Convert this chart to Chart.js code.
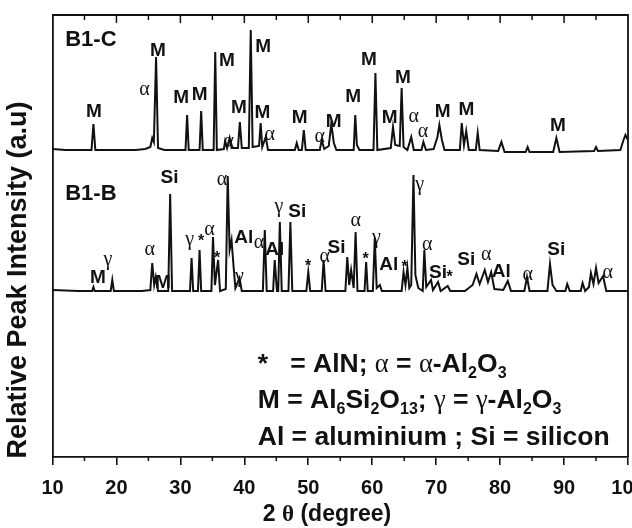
<!DOCTYPE html>
<html>
<head>
<meta charset="utf-8">
<script src="https://cdn.jsdelivr.net/npm/chart.js@4.4.1/dist/chart.umd.min.js"></script>
<style>
html,body{margin:0;padding:0;background:#fff;}
#wrap{width:632px;height:528px;position:relative;}
</style>
</head>
<body>
<div id="wrap"><canvas id="c" width="632" height="528"></canvas></div>
<script>
// ---------------- DATA (2θ in degrees, intensity in arbitrary units) ----------------
// B1-C trace (upper pattern)
const thetaC = [10.0,12.0,14.0,16.1,16.4,16.7,20.0,23.0,24.5,25.3,25.6,25.85,26.2,26.5,27.5,30.8,31.05,31.3,33.0,33.25,33.5,35.2,35.45,35.7,36.8,37.0,37.3,37.7,38.0,39.0,39.3,39.6,40.7,41.0,41.3,42.3,42.55,42.8,43.35,43.7,45.5,47.9,48.2,48.5,49.0,49.3,49.6,51.8,52.1,52.5,53.2,53.6,54.0,54.4,57.1,57.35,57.6,58.0,60.2,60.5,60.8,62.9,63.25,63.6,64.3,64.6,64.9,65.5,66.1,66.5,67.7,68.0,68.4,69.6,70.2,70.5,70.9,71.3,73.7,74.0,74.35,74.7,75.1,76.2,76.5,76.8,79.7,80.2,80.7,84.0,84.3,84.6,88.3,88.8,89.3,94.7,95.0,95.3,98.8,99.3,99.6,100.0];
const intensC = [308,307,307,307,333,307,307,307,308,310,319,315,400,309,307,307,342,307,307,346,307,307,405,307,308,316,309,319,309,309,335,309,309,427,310,311,334,310,320,307,307,307,314,307,307,327,307,307,317,308,311,333,314,307,307,342,312,307,307,384,307,309,330,312,311,369,310,307,320,307,307,315,307,308,320,332,317,307,307,334,312,326,307,307,324,307,306,315,305,305,310,305,305,319,305,306,310,306,307,317,322,317];

// B1-B trace (lower pattern)
const thetaB = [10.0,14.0,16.2,16.4,16.6,19.1,19.35,19.6,24.0,25.3,25.6,25.9,26.15,26.5,28.1,28.4,28.7,31.5,31.75,32.0,32.75,33.0,33.25,34.85,35.1,35.4,35.9,36.2,37.1,37.4,37.7,38.0,38.3,38.6,39.25,39.6,42.9,43.2,43.5,44.5,44.75,45.1,45.3,45.55,45.85,46.9,47.2,47.5,49.7,50.0,50.3,52.1,52.4,52.7,55.8,56.1,56.4,56.7,57.1,57.4,57.7,58.8,59.05,59.3,60.1,60.4,60.7,61.2,61.5,64.6,64.9,65.2,65.5,65.8,66.1,66.45,66.75,67.2,67.9,68.15,68.45,69.2,69.5,70.3,70.7,71.8,72.2,74.5,75.7,76.3,76.8,77.6,78.1,78.6,79.1,80.5,81.2,81.7,83.8,84.2,84.6,87.4,87.8,88.2,88.8,90.2,90.5,90.9,92.6,92.9,93.3,93.9,94.2,94.6,95.0,95.4,96.1,96.6,98.0,100.0];
const intensB = [167,166,166,170,166,166,177,166,166,167,194,172,180,166,166,263,166,166,199,166,166,207,166,166,220,172,197,166,168,281,207,217,192,169,179,166,166,227,166,166,197,166,166,235,166,166,235,166,166,185,166,166,197,166,166,200,172,187,169,225,166,166,195,166,166,219,169,172,166,166,185,172,189,169,172,282,182,169,166,207,170,177,167,175,166,171,166,166,172,183,173,187,175,185,168,167,176,166,166,180,166,166,193,172,166,166,173,166,166,174,166,170,184,173,189,174,181,166,166,166];

// x-axis tick labels
const xTickLabels = [10,20,30,40,50,60,70,80,90,100];

// Sample names
const sampleNames = ["B1-C","B1-B"];
const sampleTheta = [16.0,16.0];
const sampleInt   = [417,263];

// Peak phase labels
const peakText  = ["M","α","M","M","M","M","α","M","M","M","α","M","α","M","M","M","M","M","α","α","M","M","M",
                   "M","γ","α","M","Si","γ","*","α","*","α","Al","γ","α","Al","γ","Si","*","α","Si","α","*","γ","Al","*","γ","α","Si","*","Si","α","Al","α","Si","α"];
const peakTheta = [16.48,24.4,26.48,30.13,33.0,37.27,37.58,39.14,42.94,42.84,43.98,48.67,51.8,53.98,57.0,59.5,62.73,64.81,66.48,67.94,71.02,74.72,89.03,
                   17.11,18.67,25.19,27.27,28.31,31.44,33.25,34.56,35.75,36.5,39.92,39.25,42.31,44.77,45.39,48.28,49.97,52.58,54.41,57.42,58.98,60.66,62.58,65.08,67.42,68.59,70.28,72.11,74.72,77.84,80.19,84.34,88.78,96.84];
const peakInt   = [345,367,406,359,362,396,315,349,410,344,322,339,320,335,360,397,339,379,340,325,345,347,331,
                   179,197,207,174,279,217,215,227,198,277,219,180,214,207,250,245,190,200,209,236,197,219,192,189,272,212,184,179,197,202,185,182,207,184];

// Key text
const keyLines = [
  [{t:"*"},{t:"   = AlN; "},{t:"α",serif:true},{t:" = "},{t:"α",serif:true},{t:"-Al"},{t:"2",sub:true},{t:"O"},{t:"3",sub:true}],
  [{t:"M = Al"},{t:"6",sub:true},{t:"Si"},{t:"2",sub:true},{t:"O"},{t:"13",sub:true},{t:"; "},{t:"γ",serif:true},{t:" = "},{t:"γ",serif:true},{t:"-Al"},{t:"2",sub:true},{t:"O"},{t:"3",sub:true}],
  [{t:"Al = aluminium ; Si = silicon"}]
];
const xTitleRuns = [{t:"2 "},{t:"θ",serif:true,bold:true},{t:" (degree)"}];
const yTitle = "Relative Peak Intensity (a.u)";

// ---------------- STYLE ----------------
const SANS = '"Liberation Sans", Arial, Helvetica, sans-serif';
const SERIF = '"Liberation Serif", "Times New Roman", serif';
const INK = '#111';

function drawRuns(ctx, runs, x, y, size, measureOnly){
  let cx = x;
  for (const r of runs){
    const fs = r.sub ? Math.round(size*0.6) : size;
    const bold = r.serif ? (r.bold ? 'bold ' : '') : 'bold ';
    ctx.font = bold + fs + 'px ' + (r.serif ? SERIF : SANS);
    if (!measureOnly) ctx.fillText(r.t, cx, y + (r.sub ? size*0.33 : 0));
    cx += ctx.measureText(r.t).width;
  }
  return cx - x;
}

const decor = {
  id:'decor',
  afterDraw(chart){
    const ctx = chart.ctx, a = chart.chartArea;
    const xs = chart.scales.x, ys = chart.scales.y;
    ctx.save();
    // frame top & right
    ctx.strokeStyle = INK; ctx.lineWidth = 1.8;
    ctx.beginPath();
    ctx.moveTo(a.left, a.top); ctx.lineTo(a.right, a.top); ctx.lineTo(a.right, a.bottom);
    ctx.stroke();
    // minor ticks bottom (outward) and ticks on top (inward)
    ctx.lineWidth = 1.5;
    for (let v = 15; v < 100; v += 5){
      const px = xs.getPixelForValue(v);
      const major = (v % 10 === 0);
      ctx.beginPath();
      if (!major){ ctx.moveTo(px, a.bottom); ctx.lineTo(px, a.bottom + 4); }
      ctx.moveTo(px, a.top); ctx.lineTo(px, a.top + (major ? 8 : 5));
      ctx.stroke();
    }
    ctx.fillStyle = INK;
    ctx.textBaseline = 'middle';
    ctx.textAlign = 'center';
    // sample names
    ctx.font = 'bold 22px ' + SANS;
    sampleNames.forEach((s,i)=>{
      ctx.fillText(s, xs.getPixelForValue(sampleTheta[i]), ys.getPixelForValue(sampleInt[i]));
    });
    // peak labels
    peakText.forEach((s,i)=>{
      if (s === 'α' || s === 'γ') ctx.font = '20px ' + SERIF;
      else if (s === '*') ctx.font = 'bold 16px ' + SANS;
      else ctx.font = 'bold 19px ' + SANS;
      ctx.fillText(s, xs.getPixelForValue(peakTheta[i]), ys.getPixelForValue(peakInt[i]));
    });
    // key
    ctx.textAlign = 'left';
    const kx = xs.getPixelForValue(42.1);
    const ky = [92,56,19];
    keyLines.forEach((runs,i)=> drawRuns(ctx, runs, kx, ys.getPixelForValue(ky[i]), 26.5));
    // x title
    const w = drawRuns(ctx, xTitleRuns, 0, 0, 23, true);
    drawRuns(ctx, xTitleRuns, 327 - w/2, 515, 23);
    // y title
    ctx.translate(19, 280);
    ctx.rotate(-Math.PI/2);
    ctx.textAlign = 'center';
    ctx.font = 'bold 27px ' + SANS;
    ctx.fillText(yTitle, 0, 0);
    ctx.restore();
  }
};

new Chart(document.getElementById('c').getContext('2d'), {
  type:'line',
  data:{
    datasets:[
      {label:sampleNames[0], data: thetaC.map((t,i)=>({x:t, y:intensC[i]})), borderColor:INK, borderWidth:2, pointRadius:0, tension:0, fill:false},
      {label:sampleNames[1], data: thetaB.map((t,i)=>({x:t, y:intensB[i]})), borderColor:INK, borderWidth:2, pointRadius:0, tension:0, fill:false}
    ]
  },
  options:{
    responsive:false, animation:false, devicePixelRatio:1,
    layout:{padding:{top:15, right:4, left:0, bottom:0}},
    plugins:{legend:{display:false}, tooltip:{enabled:false}, title:{display:false}},
    scales:{
      x:{
        type:'linear', min:10, max:100,
        afterBuildTicks(s){ s.ticks = xTickLabels.map(v=>({value:v})); },
        ticks:{padding:11, color:INK, font:{family:SANS, size:20, weight:'bold'}, maxRotation:0, autoSkip:false},
        grid:{display:true, drawOnChartArea:false, drawTicks:true, tickLength:8, color:INK, lineWidth:1.6},
        border:{display:true, color:INK, width:1.8},
        afterFit(s){ s.height = 71; s.paddingLeft = 0; s.paddingRight = 0; }
      },
      y:{
        type:'linear', min:0, max:442,
        ticks:{display:false},
        grid:{display:false, drawTicks:false},
        border:{display:true, color:INK, width:1.8},
        afterFit(s){ s.width = 52.5; }
      }
    }
  },
  plugins:[decor]
});
</script>
</body>
</html>
